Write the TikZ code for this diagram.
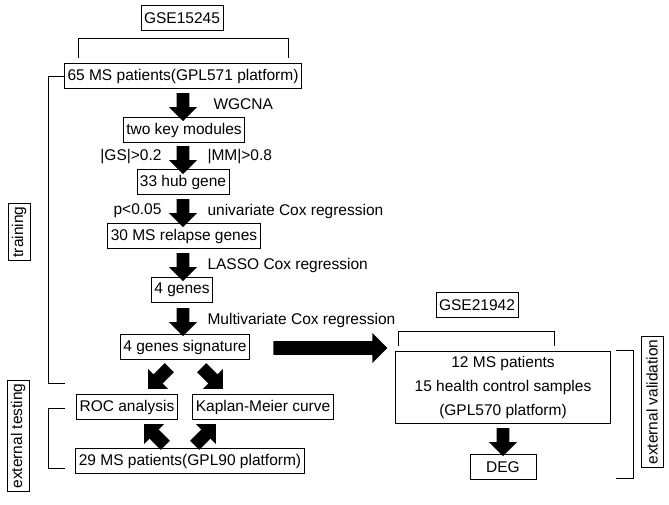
\documentclass[tikz,border=0pt]{standalone}
\usepackage{fontspec}
\setmainfont{Liberation Sans}
\usetikzlibrary{shapes.arrows,positioning}
\begin{document}
\begin{tikzpicture}[x=1pt,y=-1pt,
    font=\fontsize{15.5}{18}\selectfont,
    box/.style = {rectangle, draw, thick, inner xsep=3pt, inner ysep=2pt, minimum height=25pt},
    blk/.style = {single arrow, fill=black, draw=none, inner sep=4pt, minimum width=28pt, single arrow head extend=5pt, minimum height=28pt},
    brk/.style = {thick}
]
    \useasboundingbox (0,0) rectangle (669,504);
    % Training cohort
    \node[box] (gse1) at (182,18) {GSE15245};
    \node[box] (p65) at (183,76) {65 MS patients(GPL571 platform)};
    \node[box] (mods) at (184,130) {two key modules};
    \node[box] (hub) at (183,182) {33 hub gene};
    \node[box] (rel) at (184,236) {30 MS relapse genes};
    \node[box] (g4) at (182,290) {4 genes};
    \node[box] (sig) at (185,347) {4 genes signature};
    \node[box] (roc) at (127,407) {ROC analysis};
    \node[box] (km) at (263,407) {Kaplan-Meier curve};
    \node[box] (p29) at (190,461) {29 MS patients(GPL90 platform)};
    
    % Block arrows
    \node[blk, rotate=-90] (a1) at (183,104) {};
    \node[blk, rotate=-90] (a2) at (183,157) {};
    \node[blk, rotate=-90] (a3) at (183,210) {};
    \node[blk, rotate=-90] (a4) at (183,264) {};
    \node[blk, rotate=-90] (a5) at (183,319) {};
    \node[blk, rotate=-135, minimum height=30pt] (a6) at (161,376) {};
    \node[blk, rotate=-45, minimum height=30pt] (a7) at (210,376) {};
    \node[blk, rotate=135, minimum height=30pt] (a8) at (157,437) {};
    \node[blk, rotate=45, minimum height=30pt] (a9) at (203,437) {};
    \node[blk, minimum height=114pt, minimum width=30pt, single arrow head extend=5pt] (big) at (327,348) {};
    
    % Arrow labels
    \node[anchor=west] (l1) at (210,104) {WGCNA};
    \node[anchor=east] (l2) at (165,157) {|GS|>0.2};
    \node[anchor=west] (l3) at (204,157) {|MM|>0.8};
    \node[anchor=east] (l4) at (165,211) {p<0.05};
    \node[anchor=west] (l5) at (204,211) {univariate Cox regression};
    \node[anchor=west] (l6) at (204,265) {LASSO Cox regression};
    \node[anchor=west] (l7) at (204,320) {Multivariate Cox regression};
    
    % Brackets
    \draw[brk] (78,58) -- (78,38) -- (288,38) -- (288,58);
    \draw[brk] (65,76) -- (48,76) -- (48,383) -- (65,383);
    \draw[brk] (65,408) -- (48,408) -- (48,468) -- (65,468);
    \node[box, rotate=90, minimum height=22pt] (train) at (19,232) {training};
    \node[box, rotate=90, minimum height=22pt] (ext) at (18,436) {external testing};
    
    % Validation cohort
    \node[box] (gse2) at (477,305) {GSE21942};
    \draw[brk] (398,346) -- (398,331) -- (554,331) -- (554,346);
    \node[box, minimum width=215pt, minimum height=72pt, align=center] (p12) at (503,387)
        {12 MS patients\\[6pt]15 health control samples\\[6pt](GPL570 platform)};
    \node[blk, rotate=-90] (a10) at (503,439) {};
    \node[box, minimum width=66pt] (deg) at (503,467) {DEG};
    \draw[brk] (616,350) -- (633,350) -- (633,478) -- (616,478);
    \node[box, rotate=90, minimum height=22pt] (val) at (652,402) {external validation};
\end{tikzpicture}
\end{document}
